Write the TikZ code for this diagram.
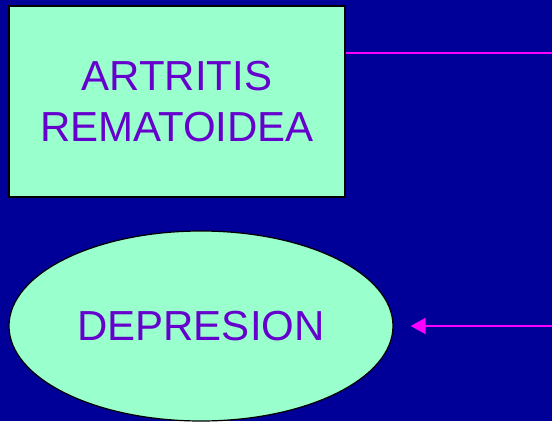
\documentclass[tikz,border=0pt]{standalone}
\usepackage{fontspec}
\setmainfont{Liberation Sans}
\usepackage{xcolor}
\usetikzlibrary{arrows.meta,positioning,calc,shapes.geometric}

\definecolor{fondo}{HTML}{000099}
\definecolor{menta}{HTML}{99FFCC}
\definecolor{texto}{HTML}{6600CC}
\definecolor{enlace}{HTML}{FF00FF}

\begin{document}
\begin{tikzpicture}[
  x=1pt, y=-1pt,
  >=Triangle,
  causa/.style={draw=black, line width=1.5pt, fill=menta, text=texto, inner sep=0pt,
    minimum width=336pt, minimum height=191pt, align=center,
    font=\fontsize{42}{51}\selectfont},
  efecto/.style={ellipse, draw=black, line width=1.2pt, fill=menta, text=texto, inner sep=0pt,
    minimum width=384pt, minimum height=190pt,
    font=\fontsize{42}{51}\selectfont},
  enlace/.style={draw=enlace, line width=2pt}
]

% Fondo de la diapositiva
\fill[fondo] (0,0) rectangle (552,421);
\useasboundingbox (0,0) rectangle (552,421);

% Caja superior y elipse inferior
\node[causa] (artritis) at (177,101.5) {ARTRITIS\\REMATOIDEA};
\node[efecto] (depresion) at (201,326) {DEPRESION};

% Extremos libres a la derecha
\coordinate (salidaAR) at (552,53);
\coordinate (entradaDep) at (552,326);

% Linea que sale de la caja
\draw[enlace] (artritis.east |- salidaAR) -- (salidaAR);

% Flecha hacia la elipse
\draw[enlace, ->, >={Triangle[length=15pt, width=16pt]}, shorten >=17pt] (entradaDep) -- (depresion.east);

\end{tikzpicture}
\end{document}
